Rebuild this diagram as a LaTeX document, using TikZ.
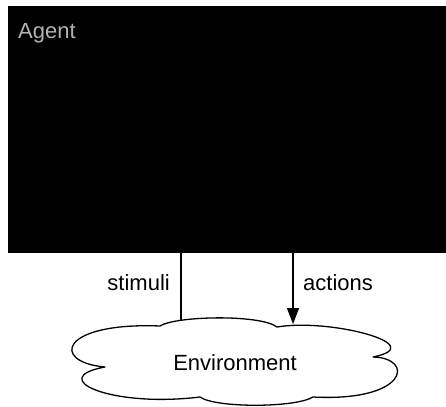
\documentclass[tikz,border=0pt]{standalone}
\usepackage{fontspec}
\setmainfont{Liberation Sans}
\usetikzlibrary{arrows.meta}
\begin{document}
\begin{tikzpicture}[x=1pt,y=-1pt,
  agentbox/.style={fill=black,draw=none,inner sep=0pt,outer sep=0pt},
  lbl/.style={inner sep=0pt,font=\fontsize{22}{26}\selectfont},
  conn/.style={line width=1.3pt},
  cloudline/.style={line width=1.3pt,line join=round}]
\useasboundingbox (0,0) rectangle (446,406);
% agent
\node[agentbox,minimum width=438pt,minimum height=247pt] (agent) at (227,129.5) {};
\node[lbl,anchor=base west,text={rgb,255:red,178;green,178;blue,178}] (agentlabel) at (18,39) {Agent};
% environment cloud
\draw[cloudline] (105,367)
  .. controls (50,362) and (60,322) .. (160,326)
  .. controls (175,316) and (260,314) .. (277,327)
  .. controls (330,318) and (432,345) .. (373,357)
  .. controls (415,358) and (408,402) .. (313,397)
  .. controls (295,408) and (215,408) .. (200,397)
  .. controls (110,408) and (45,378) .. cycle;
\node[lbl,anchor=base] (env) at (235,370) {Environment};
\coordinate (stimbot) at (181,319.5);
\coordinate (actbot) at (293,324);
% connectors
\draw[conn] (stimbot) -- (agent.south -| stimbot);
\draw[conn,-{Triangle[width=12pt,length=16pt]}] (agent.south -| actbot) -- (actbot);
% labels
\node[lbl,anchor=base east] (stimlabel) at (170,290) {stimuli};
\node[lbl,anchor=base west] (actlabel) at (303,290) {actions};
\end{tikzpicture}
\end{document}
